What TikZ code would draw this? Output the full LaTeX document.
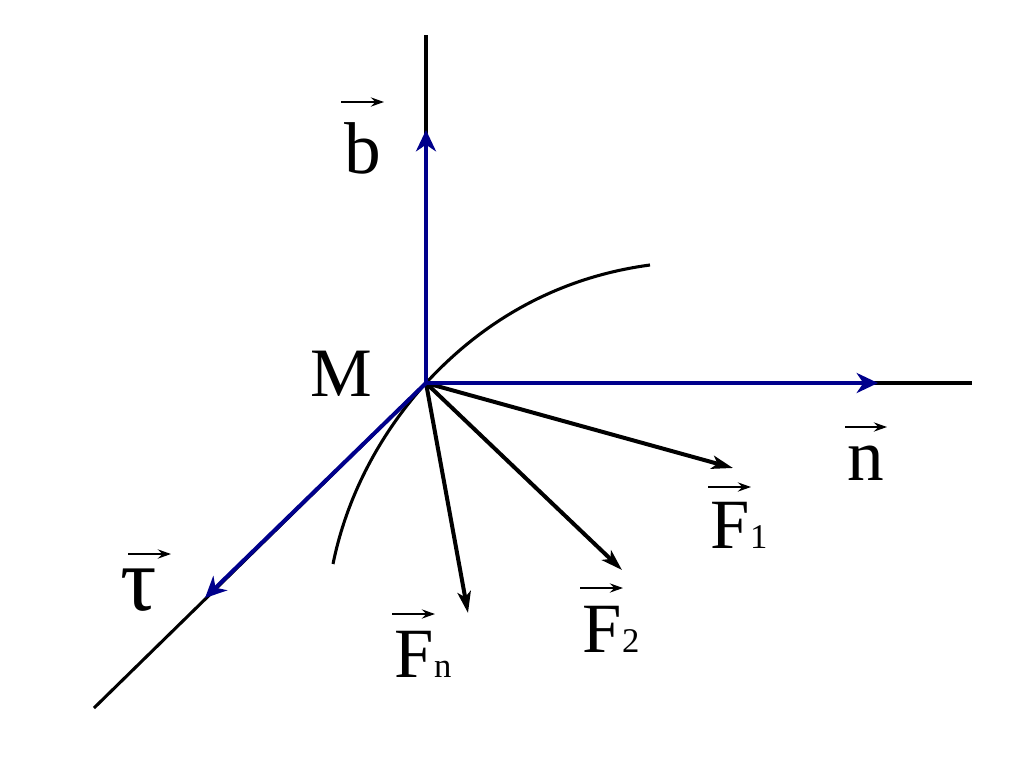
\documentclass[tikz,border=0pt]{standalone}
\usepackage{fontspec}
\setmainfont{Liberation Serif}
\usetikzlibrary{arrows.meta}
\definecolor{vecblue}{RGB}{0,0,140}
\tikzset{
  px/.style={x=0.75pt,y=-0.75pt},
  axisline/.style={black,line width=2.3pt},
  curveline/.style={black,line width=2.3pt},
  bluevec/.style={vecblue,line width=3pt,-{Stealth[length=16pt,width=15pt,inset=5pt]}},
  forcevec/.style={black,line width=3pt,-{Stealth[length=16pt,width=10pt,inset=4pt]}},
  overarrow/.style={black,line width=1.4pt,-{Stealth[length=10pt,width=7pt,inset=3.5pt]}},
  biglabel/.style={inner sep=0pt,outer sep=0pt,anchor=base west,font=\fontsize{55}{55}\selectfont},
  flabel/.style={inner sep=0pt,outer sep=0pt,anchor=base west,font=\fontsize{53}{53}\selectfont},
  mlabel/.style={inner sep=0pt,outer sep=0pt,anchor=base west,font=\fontsize{52}{52}\selectfont},
  taulabel/.style={inner sep=0pt,outer sep=0pt,anchor=base west,font=\fontsize{68}{68}\selectfont},
  sublabel/.style={inner sep=0pt,outer sep=0pt,anchor=base west,font=\fontsize{26}{26}\selectfont}
}
\begin{document}
\begin{tikzpicture}[px]
\useasboundingbox (0,0) rectangle (1024,768);
\fill[white] (0,0) rectangle (1024,768);
\coordinate (M) at (426,383);
\coordinate (bend) at (426,35);
\coordinate (btip) at (426,130);
\coordinate (nend) at (972,383);
\coordinate (ntip) at (878,383);
\coordinate (tend) at (94,708);
\coordinate (ttip) at (205,598);
\coordinate (f1) at (733,468);
\coordinate (f2) at (622,570);
\coordinate (fn) at (468,613);
\coordinate (ca) at (650,265);
\coordinate (cb) at (333,564);
\draw[axisline] (M) -- (bend);
\draw[axisline] (M) -- (nend);
\draw[axisline] (M) -- (tend);
\draw[curveline] (cb) .. controls (348,490) and (385,428) .. (M) .. controls (495,308) and (575,275) .. (ca);
\draw[forcevec] (M) -- (f1);
\draw[forcevec] (M) -- (f2);
\draw[forcevec] (M) -- (fn);
\draw[bluevec] (M) -- (btip);
\draw[bluevec] (M) -- (ntip);
\draw[bluevec] (M) -- (ttip);
\node[mlabel] (lM) at (310,396) {M};
\node[biglabel] (lb) at (344,173) {b};
\node[biglabel] (ln) at (847,480) {n};
\node[taulabel] (lt) at (120,610) {τ};
\node[flabel] (lF1) at (710,548) {F};
\node[sublabel] (s1) at (750,548) {1};
\node[flabel] (lF2) at (582,652) {F};
\node[sublabel] (s2) at (622,652) {2};
\node[flabel] (lFn) at (394,677) {F};
\node[sublabel] (sn) at (434,677) {n};
\coordinate (ab1) at (341,102); \coordinate (ab2) at (384,102);
\coordinate (an1) at (845,427); \coordinate (an2) at (887,427);
\coordinate (at1) at (128,554); \coordinate (at2) at (171,554);
\coordinate (a11) at (708,487); \coordinate (a12) at (751,487);
\coordinate (a21) at (580,588); \coordinate (a22) at (623,588);
\coordinate (an3) at (392,614); \coordinate (an4) at (435,614);
\draw[overarrow] (ab1) -- (ab2);
\draw[overarrow] (an1) -- (an2);
\draw[overarrow] (at1) -- (at2);
\draw[overarrow] (a11) -- (a12);
\draw[overarrow] (a21) -- (a22);
\draw[overarrow] (an3) -- (an4);
\end{tikzpicture}
\end{document}
